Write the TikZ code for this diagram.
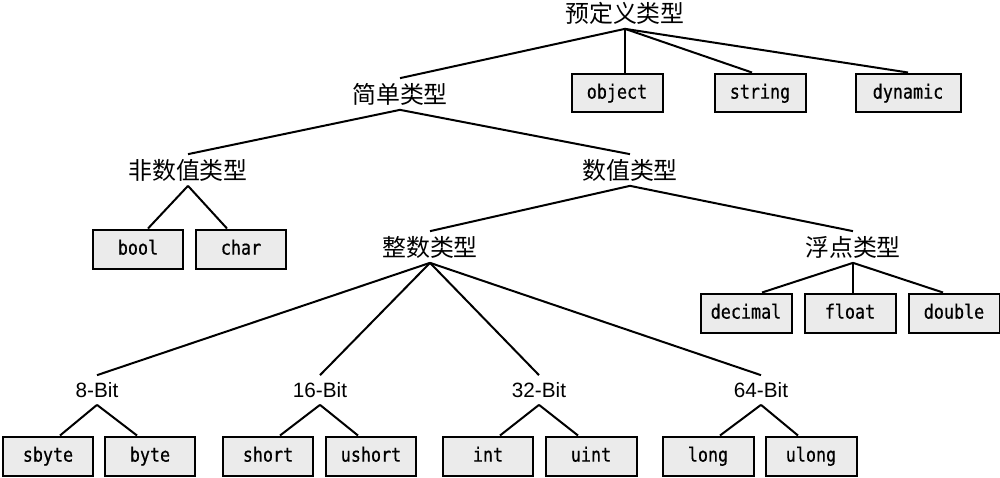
\documentclass[tikz,border=0pt]{standalone}
\usepackage{fontspec}
\setsansfont{Liberation Sans}
\setmonofont{DejaVu Sans Mono}[FakeStretch=0.85, FakeBold=0.6]
\newfontfamily\cjk{Noto Sans CJK SC}
\usepackage{tikz}
\usetikzlibrary{positioning,calc}
\definecolor{boxgray}{HTML}{EBEBEB}

\begin{document}
\begin{tikzpicture}[
    x=0.02cm, y=-0.02cm,
    cat/.style={font=\fontsize{13.6}{16}\selectfont\cjk, inner sep=0pt, minimum height=0.62cm},
    bits/.style={font=\fontsize{11.8}{14}\selectfont\sffamily, inner sep=0pt, minimum height=0.58cm},
    kw/.style={draw, line width=0.04cm, fill=boxgray, font=\fontsize{11.2}{13}\selectfont\ttfamily, minimum width=1.82cm, minimum height=0.78cm, inner sep=2pt, text height=0.84em, text depth=0.2em},
    edge/.style={line width=0.04cm},
]
\useasboundingbox (0,0) rectangle (1000,477);

% category labels
\node[cat] (root) at (625,13) {预定义类型};
\node[cat] (simple) at (400,94) {简单类型};
\node[cat] (nonnum) at (188,170) {非数值类型};
\node[cat] (num) at (630,170) {数值类型};
\node[cat] (integral) at (430,247) {整数类型};
\node[cat] (floating) at (853,247) {浮点类型};

% integer widths
\node[bits] (b8) at (97,390) {8-Bit};
\node[bits] (b16) at (320,390) {16-Bit};
\node[bits] (b32) at (539,390) {32-Bit};
\node[bits] (b64) at (761,390) {64-Bit};

% type keywords
\node[kw] (obj) at (617,93) {object};
\node[kw] (str) at (760,93) {string};
\node[kw, minimum width=2.1cm] (dyn) at (908,93) {dynamic};
\node[kw] (bool) at (138,249) {bool};
\node[kw] (char) at (241,249) {char};
\node[kw] (decimal) at (746,313) {decimal};
\node[kw] (float) at (850,313) {float};
\node[kw] (double) at (954,313) {double};
\foreach \n/\x in {sbyte/48, byte/150, short/268, ushort/371, int/488, uint/591, long/708, ulong/811} {
    \node[kw] (\n) at (\x,456) {\n};
}

% tree edges
\draw[edge] (root.south) -- (simple.north);
\draw[edge] (root.south) -- (root.south |- obj.north);
\draw[edge] (root.south) -- ([xshift=-0.16cm]str.north);
\draw[edge] (root.south) -- (dyn.north);
\draw[edge] (simple.south) -- (nonnum.north);
\draw[edge] (simple.south) -- (num.north);
\draw[edge] (nonnum.south) -- ([xshift=0.2cm]bool.north);
\draw[edge] (nonnum.south) -- ([xshift=-0.28cm]char.north);
\draw[edge] (num.south) -- (integral.north);
\draw[edge] (num.south) -- (floating.north);
\draw[edge] (floating.south) -- ([xshift=0.32cm]decimal.north);
\draw[edge] (floating.south) -- (floating.south |- float.north);
\draw[edge] (floating.south) -- ([xshift=-0.22cm]double.north);
\foreach \b in {b8, b16, b32, b64} {
    \draw[edge] (integral.south) -- (\b.north);
}
\foreach \b/\l/\r in {b8/sbyte/byte, b16/short/ushort, b32/int/uint, b64/long/ulong} {
    \draw[edge] (\b.south) -- ([xshift=0.24cm]\l.north);
    \draw[edge] (\b.south) -- ([xshift=-0.26cm]\r.north);
}
\end{tikzpicture}
\end{document}
